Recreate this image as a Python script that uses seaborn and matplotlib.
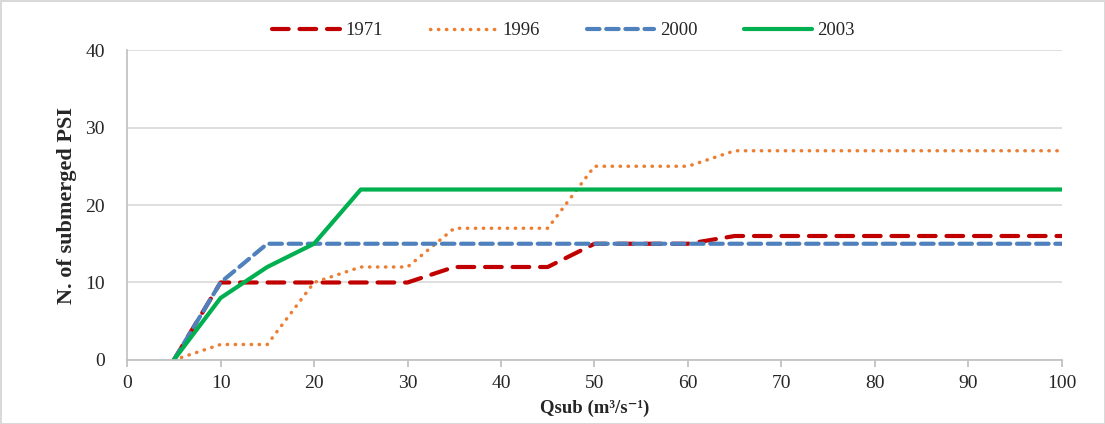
import matplotlib
matplotlib.use("Agg")
import matplotlib.pyplot as plt
import seaborn as sns
import pandas as pd

q = [5, 10, 15, 20, 25, 30, 35, 40, 45, 50, 55, 60, 65, 70, 75, 80, 85, 90, 95, 100]
y1971 = [0, 10, 10, 10, 10, 10, 12, 12, 12, 15, 15, 15, 16, 16, 16, 16, 16, 16, 16, 16]
y1996 = [0, 2, 2, 10, 12, 12, 17, 17, 17, 25, 25, 25, 27, 27, 27, 27, 27, 27, 27, 27]
y2000 = [0, 10, 15, 15, 15, 15, 15, 15, 15, 15, 15, 15, 15, 15, 15, 15, 15, 15, 15, 15]
y2003 = [0, 8, 12, 15, 22, 22, 22, 22, 22, 22, 22, 22, 22, 22, 22, 22, 22, 22, 22, 22]
series_names = ["1971", "1996", "2000", "2003"]
x_ticks = [0, 10, 20, 30, 40, 50, 60, 70, 80, 90, 100]
y_ticks = [0, 10, 20, 30, 40]

sns.set_theme(style="white")
plt.rcParams["font.family"] = ["Liberation Serif", "DejaVu Serif"]

fig = plt.figure(figsize=(11.05, 4.24), dpi=100, linewidth=2, edgecolor="#d9d9d9")
ax = fig.add_axes([0.115, 0.151, 0.846, 0.731])

values = [y1971, y1996, y2000, y2003]
colors = ["#C00000", "#ED7D31", "#4F81BD", "#00B050"]
dashes = [(4, 2.6), (0.1, 2.2), (3, 1.6), None]
widths = [3, 2.5, 3, 3]

for name, vals, c, d, w in zip(series_names, values, colors, dashes, widths):
    df = pd.DataFrame({"Q": q, "N": vals})
    sns.lineplot(data=df, x="Q", y="N", ax=ax, color=c, linewidth=w, label=name)
    ln = ax.lines[-1]
    if d is not None:
        ln.set_dashes(d)
        ln.set_dash_capstyle("round")

ax.set_xlim(0, 100)
ax.set_ylim(0, 40)
ax.set_xticks(x_ticks)
ax.set_yticks(y_ticks)
ax.grid(axis="y", color="#d9d9d9", linewidth=1.2)
ax.grid(axis="x", visible=False)
for s in ["top", "right"]:
    ax.spines[s].set_visible(False)
for s in ["left", "bottom"]:
    ax.spines[s].set_color("#bfbfbf")
    ax.spines[s].set_linewidth(1.2)
ax.tick_params(axis="x", bottom=True, length=5, color="#bfbfbf", labelsize=14, pad=6)
ax.tick_params(axis="y", left=False, labelsize=14, pad=10)
ax.set_xlabel("Qsub (m³/s⁻¹)", fontsize=13.5, fontweight="bold", labelpad=5)
ax.set_ylabel("N. of submerged PSI", fontsize=16, fontweight="bold", labelpad=6)

leg = ax.legend(loc="center", bbox_to_anchor=(0.51, 0.928), bbox_transform=fig.transFigure,
                ncol=4, frameon=False, fontsize=13.5, handlelength=3.6, columnspacing=2.5,
                handletextpad=0.3)

fig.savefig("out.png", dpi=100, edgecolor=fig.get_edgecolor())
